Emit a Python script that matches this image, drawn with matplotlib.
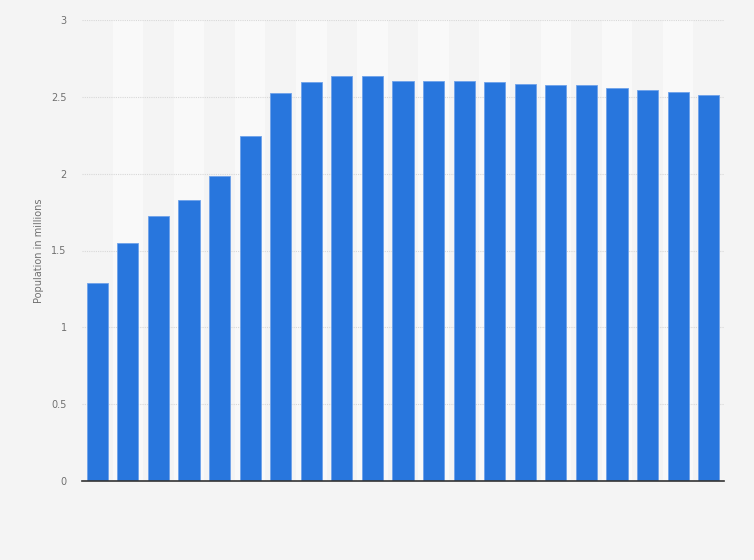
import matplotlib.pyplot as plt

# population in millions, one bar per year (no year labels shown on the chart)
values = [1.286, 1.547, 1.724, 1.826, 1.982, 2.243, 2.522, 2.594, 2.635, 2.635,
          2.600, 2.600, 2.600, 2.594, 2.581, 2.576, 2.576, 2.555, 2.542, 2.529, 2.511]
y_ticks = [0, 0.5, 1, 1.5, 2, 2.5, 3]
y_labels = ['0', '0.5', '1', '1.5', '2', '2.5', '3']

fig = plt.figure(figsize=(7.54, 5.6), dpi=100)
fig.patch.set_facecolor('#f4f4f4')
ax = fig.add_axes([82/754, 79/560, 642/754, 461/560])
ax.set_facecolor('#f4f4f4')

x = list(range(len(values)))

# alternating light columns
for i in x:
    if i % 2 == 1:
        ax.axvspan(i - 0.5, i + 0.5, color='#f9f9f9', zorder=0, lw=0)

ax.bar(x, values, width=0.69, color='#2876dd', edgecolor='#6ea2ea', linewidth=0.6, zorder=3)

ax.set_xlim(-0.5, len(values) - 0.5)
ax.set_ylim(0, 3)
ax.set_yticks(y_ticks)
ax.set_yticklabels(y_labels)
ax.set_xticks([])
ax.yaxis.grid(True, linestyle=(0, (1, 1)), color='#d8d8d8', linewidth=0.8, zorder=1)

for s in ['top', 'right', 'left']:
    ax.spines[s].set_visible(False)
ax.spines['bottom'].set_color('#333333')
ax.spines['bottom'].set_linewidth(1.2)
ax.spines['bottom'].set_zorder(4)

ax.tick_params(axis='y', length=0, pad=11, labelsize=7, labelcolor='#707070')
ax.set_ylabel('Population in millions', fontsize=7, color='#707070')
ax.yaxis.set_label_coords(-0.059, 0.5)

plt.savefig('out.png', dpi=100, facecolor=fig.get_facecolor())
